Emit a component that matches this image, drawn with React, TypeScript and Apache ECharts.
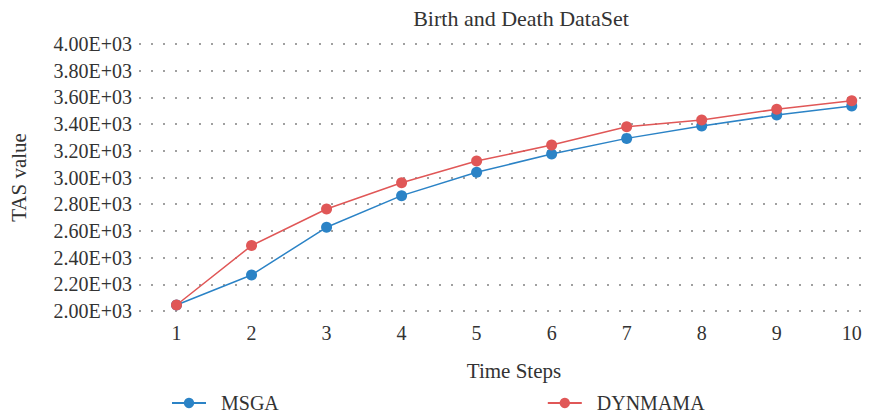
import React, { useEffect, useRef } from "react";
import * as echarts from "echarts";

const timeSteps = [1, 2, 3, 4, 5, 6, 7, 8, 9, 10];
const msga = [2045, 2270, 2627, 2864, 3039, 3176, 3293, 3386, 3468, 3535];
const dynmama = [2045, 2490, 2764, 2961, 3123, 3243, 3380, 3431, 3511, 3575];
const seriesNames = ["MSGA", "DYNMAMA"];
const colors = ["#2b83c6", "#e05757"];

const FONT = "'Liberation Serif', 'DejaVu Serif', serif";

export default function App() {
  const ref = useRef<HTMLDivElement>(null);
  useEffect(() => {
    if (!ref.current) return;
    const chart = echarts.init(ref.current, null, { renderer: "svg" });
    chart.setOption({
      animation: false,
      backgroundColor: "#ffffff",
      textStyle: { fontFamily: FONT },
      title: {
        text: "Birth and Death DataSet",
        left: 516,
        textAlign: "center",
        top: 2,
        textStyle: { fontFamily: FONT, fontSize: 22, fontWeight: "normal", color: "#333" },
      },
      legend: {
        left: 166,
        top: 388,
        itemWidth: 34,
        itemHeight: 13,
        itemGap: 268,
        textStyle: { fontFamily: FONT, fontSize: 20, color: "#333", padding: [0, 0, 0, 10] },
        data: seriesNames,
      },
      grid: { left: 136, right: 10, top: 44, bottom: 108, containLabel: false },
      xAxis: {
        type: "value",
        min: 0.5,
        max: 10.23,
        interval: 0.5,
        name: "Time Steps",
        nameLocation: "middle",
        nameGap: 49,
        nameTextStyle: { fontFamily: FONT, fontSize: 21, color: "#333", padding: [0, 0, 0, 20] },
        axisLine: { show: false },
        axisTick: { show: false },
        splitLine: { show: false },
        axisLabel: {
          fontFamily: FONT,
          fontSize: 20,
          color: "#333",
          margin: 12,
          showMinLabel: true,
          showMaxLabel: false,
          formatter: (v: number) => (Number.isInteger(v) && v >= 1 ? String(v) : ""),
        },
      },
      yAxis: {
        type: "value",
        min: 2000,
        max: 4000,
        interval: 200,
        name: "TAS value",
        nameLocation: "middle",
        nameRotate: 90,
        nameGap: 110,
        nameTextStyle: { fontFamily: FONT, fontSize: 21, color: "#333" },
        axisLine: { show: false },
        axisTick: { show: false },
        axisLabel: {
          fontFamily: FONT,
          fontSize: 20,
          color: "#333",
          margin: 7,
          formatter: (v: number) => (v / 1000).toFixed(2) + "E+03",
        },
        splitLine: {
          show: true,
          lineStyle: { color: "#a0a0a0", width: 2, type: [2, 10] },
        },
      },
      series: [
        {
          name: seriesNames[0],
          type: "line",
          data: timeSteps.map((t, i) => [t, msga[i]]),
          symbol: "circle",
          symbolSize: 11,
          color: colors[0],
          lineStyle: { width: 1.5, color: colors[0] },
          itemStyle: { color: colors[0] },
          z: 2,
        },
        {
          name: seriesNames[1],
          type: "line",
          data: timeSteps.map((t, i) => [t, dynmama[i]]),
          symbol: "circle",
          symbolSize: 11,
          color: colors[1],
          lineStyle: { width: 1.5, color: colors[1] },
          itemStyle: { color: colors[1] },
          z: 3,
        },
      ],
    });
    return () => chart.dispose();
  }, []);
  return (
    <div
      ref={ref}
      style={{ position: "absolute", left: 0, top: 0, width: 879, height: 419 }}
    />
  );
}
